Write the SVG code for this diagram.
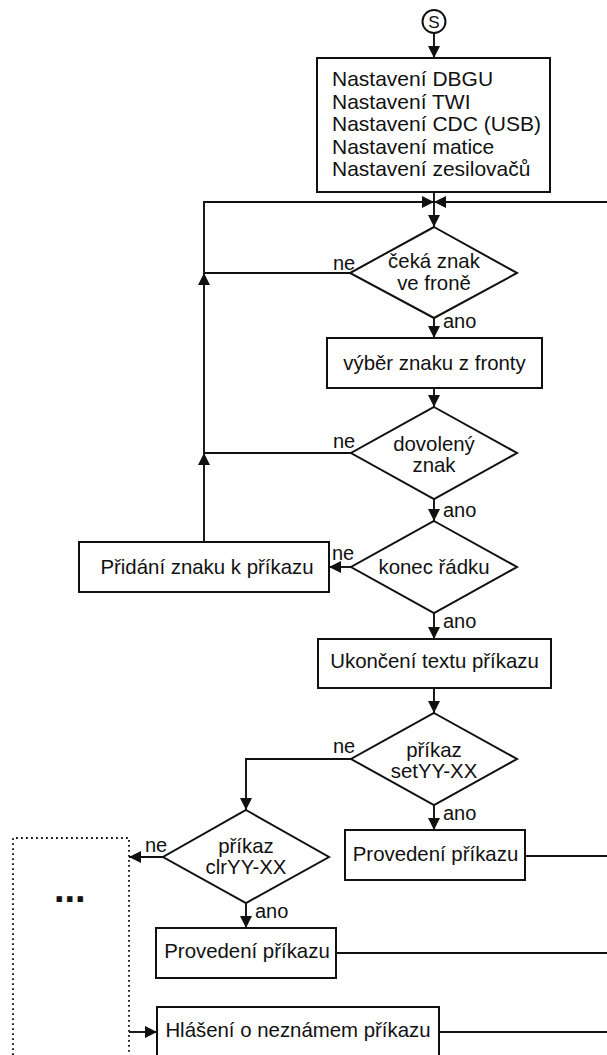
<svg xmlns="http://www.w3.org/2000/svg" width="607" height="1055" viewBox="0 0 607 1055">
<style>
.shape{fill:#fff;stroke:#111;stroke-width:2}
.con{fill:none;stroke:#111;stroke-width:1.9}
.arr{marker-end:url(#ah)}
text{font-family:"Liberation Sans",Arial,sans-serif;font-size:20.4px;fill:#111}
.c{text-anchor:middle}
.lbl{font-size:20px}
.big{font-size:21px}
</style>
<defs>
<marker id="ah" markerUnits="userSpaceOnUse" markerWidth="12" markerHeight="12" refX="12" refY="6" orient="auto" viewBox="0 0 12 12">
<path d="M0,0 L12,6 L0,12 z" fill="#111"/>
</marker>
</defs>
<g id="connectors">
<path class="con arr" d="M434,33 V58"/>
<path class="con arr" d="M434,192 V227"/>
<path class="con arr" d="M607,202 H434"/>
<path class="con arr" d="M204,542 V453"/>
<path class="con arr" d="M204,453 V273"/>
<path class="con arr" d="M204,273 V202 H434"/>
<path class="con" d="M350,273 H204"/>
<path class="con" d="M351,453 H204"/>
<path class="con arr" d="M434,318 V338"/>
<path class="con arr" d="M434,388 V407"/>
<path class="con arr" d="M434,499 V521"/>
<path class="con arr" d="M351,567 H329"/>
<path class="con arr" d="M434,613 V639"/>
<path class="con arr" d="M434,688 V713"/>
<path class="con arr" d="M351,759 H246 V810"/>
<path class="con arr" d="M434,805 V830"/>
<path class="con" d="M525,856 H607"/>
<path class="con arr" d="M163,857 H129"/>
<path class="con arr" d="M246,903 V928"/>
<path class="con" d="M336,953 H607"/>
<path class="con arr" d="M129,1032 H157"/>
<path class="con" d="M439,1032 H607"/>
</g>
<g id="start">
<circle class="shape" cx="434" cy="21.5" r="11.5"/>
<text class="c" x="434" y="28" style="font-size:17px">S</text>
</g>
<g id="init">
<rect class="shape" x="317" y="58" width="233" height="134"/>
<text class="big" x="332" y="86">Nastavení DBGU</text>
<text class="big" x="332" y="108.5">Nastavení TWI</text>
<text class="big" x="332" y="131">Nastavení CDC (USB)</text>
<text class="big" x="332" y="153.5">Nastavení matice</text>
<text class="big" x="332" y="176">Nastavení zesilovačů</text>
</g>
<g id="d-ceka">
<polygon class="shape" points="434,227 517,273 434,318 350,273"/>
<text class="c" x="434" y="268">čeká znak</text>
<text class="c" x="434" y="290">ve froně</text>
<text class="lbl" x="333" y="270">ne</text>
<text class="lbl" x="443" y="328">ano</text>
</g>
<g id="vyber">
<rect class="shape" x="327" y="338" width="215" height="50"/>
<text class="c" x="434.5" y="370">výběr znaku z fronty</text>
</g>
<g id="d-dovoleny">
<polygon class="shape" points="434,407 517,453 434,499 351,453"/>
<text class="c" x="434" y="451">dovolený</text>
<text class="c" x="434" y="472">znak</text>
<text class="lbl" x="333" y="448">ne</text>
<text class="lbl" x="443" y="517">ano</text>
</g>
<g id="d-konec">
<polygon class="shape" points="434,521 517,567 434,613 351,567"/>
<text class="c" x="434" y="574">konec řádku</text>
<text class="lbl" x="332" y="560">ne</text>
<text class="lbl" x="443" y="628">ano</text>
</g>
<g id="pridani">
<rect class="shape" x="79" y="542" width="250" height="50"/>
<text class="c" x="207" y="574">Přidání znaku k příkazu</text>
</g>
<g id="ukonceni">
<rect class="shape" x="318" y="639" width="233" height="49"/>
<text class="c" x="434.5" y="668">Ukončení textu příkazu</text>
</g>
<g id="d-set">
<polygon class="shape" points="434,713 517,759 434,805 351,759"/>
<text class="c" x="434" y="757">příkaz</text>
<text class="c" x="434" y="778">setYY-XX</text>
<text class="lbl" x="333" y="753">ne</text>
<text class="lbl" x="443" y="820">ano</text>
</g>
<g id="provedeni1">
<rect class="shape" x="345" y="830" width="180" height="50"/>
<text class="c" x="435.5" y="861">Provedení příkazu</text>
</g>
<g id="d-clr">
<polygon class="shape" points="246,810 329,857 246,903 163,857"/>
<text class="c" x="246" y="853">příkaz</text>
<text class="c" x="246" y="874">clrYY-XX</text>
<text class="lbl" x="145" y="852">ne</text>
<text class="lbl" x="255" y="918">ano</text>
</g>
<g id="provedeni2">
<rect class="shape" x="156" y="928" width="180" height="50"/>
<text class="c" x="247" y="958">Provedení příkazu</text>
</g>
<g id="hlaseni">
<rect class="shape" x="157" y="1007" width="282" height="60"/>
<text class="c" x="298" y="1037">Hlášení o neznámem příkazu</text>
</g>
<g id="other">
<path d="M13,1060 V838 H129 V1060" fill="none" stroke="#111" stroke-width="1.8" stroke-dasharray="1.8 3.2"/>
<text x="54" y="902" style="font-size:38px;font-weight:bold">...</text>
</g>
</svg>
